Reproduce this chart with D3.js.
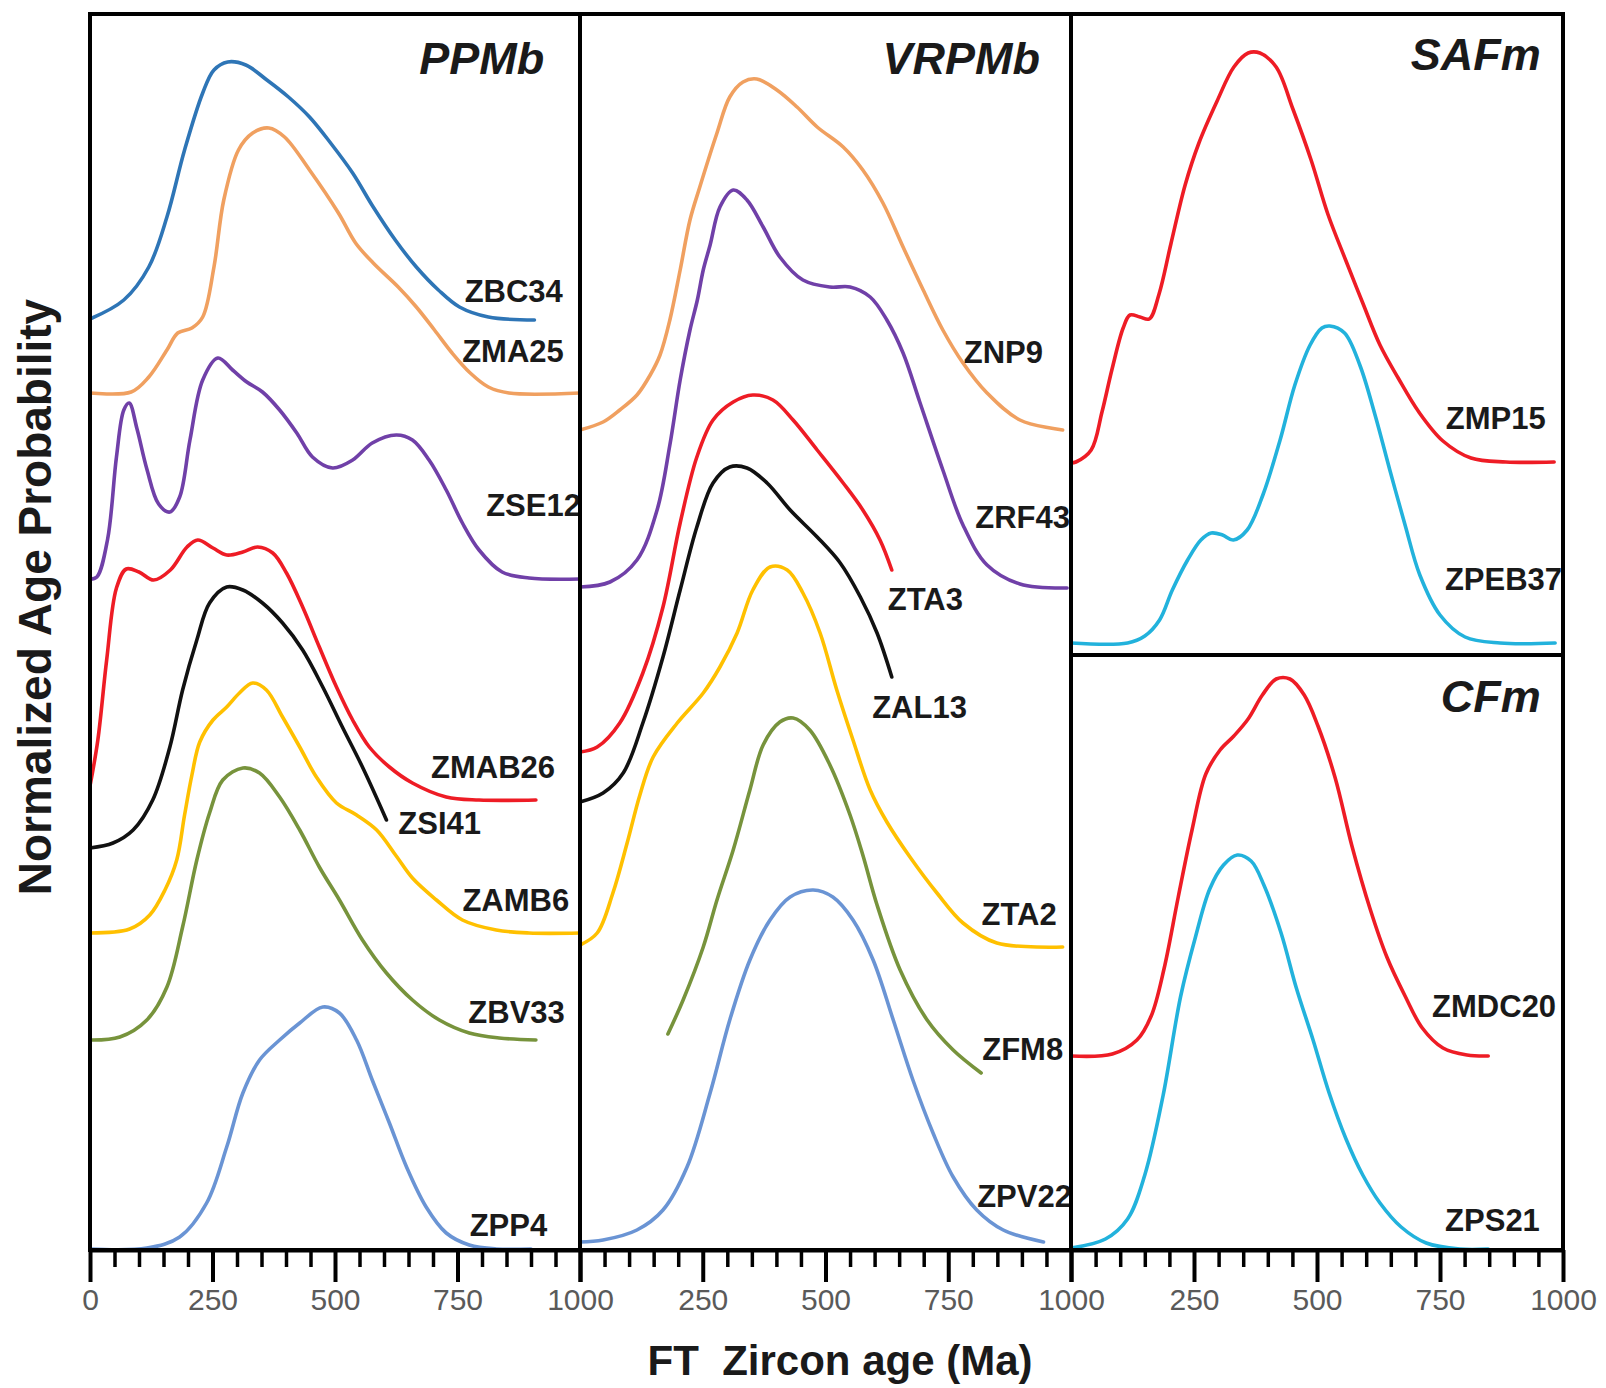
<!DOCTYPE html>
<html>
<head>
<meta charset="utf-8">
<script src="https://cdn.jsdelivr.net/npm/d3@7/dist/d3.min.js"></script>
<style>
body { margin: 0; background: #fff; }
text { font-family: "Liberation Sans", Arial, sans-serif; }
</style>
</head>
<body>
<div id="chart"></div>
<script>

// each series: [age (Ma), height above the curve's own baseline]
var ZBC34 = [[0,1],[69,20],[120,53],[157,103],[193,170],[230,227],[253,250],[281,258],[318,255],[361,240],[405,223],[448,203],[491,177],[536,147],[578,113],[623,80],[666,53],[711,30],[754,13],[813,3],[907,0]];
var ZMA25 = [[0,0],[84,1],[120,16],[157,43],[179,60],[208,65],[230,76],[253,126],[273,193],[303,243],[332,260],[365,265],[397,256],[448,223],[507,180],[542,150],[578,130],[629,106],[666,86],[703,63],[739,40],[776,20],[813,6],[855,0],[1000,0]];
var ZSE12 = [[0,0],[14,2],[36,40],[54,122],[69,169],[80,176],[96,150],[116,110],[140,75],[163,67],[183,82],[204,139],[230,199],[261,221],[291,209],[320,197],[352,187],[387,169],[422,146],[454,122],[495,111],[536,119],[576,136],[625,144],[658,139],[692,119],[727,89],[760,56],[794,29],[841,7],[896,1],[1000,0]];
var ZMAB26 = [[0,14],[16,60],[34,140],[54,212],[74,231],[100,228],[130,220],[164,230],[198,253],[220,260],[251,252],[279,245],[312,248],[342,253],[373,247],[401,227],[434,193],[468,153],[503,113],[536,80],[570,53],[611,33],[658,17],[727,3],[794,0],[910,0]];
var ZSI41 = [[0,2],[47,7],[88,20],[128,50],[163,103],[189,160],[218,210],[244,247],[279,263],[312,260],[352,247],[393,227],[434,200],[475,163],[515,123],[556,83],[605,30]];
var ZAMB6 = [[0,0],[81,4],[122,18],[153,43],[177,73],[193,118],[208,158],[224,191],[251,213],[279,226],[305,240],[332,250],[360,243],[393,216],[428,186],[462,156],[503,130],[544,118],[585,103],[625,77],[658,55],[707,33],[760,13],[829,3],[896,0],[1000,0]];
var ZBV33 = [[0,0],[61,3],[116,20],[157,53],[189,113],[218,180],[244,227],[271,260],[312,272],[346,267],[387,243],[428,210],[468,173],[509,140],[556,100],[605,67],[658,40],[713,20],[774,7],[835,2],[910,0]];
var ZPP4 = [[0,0],[116,1],[183,12],[238,46],[279,102],[312,156],[346,189],[387,209],[428,226],[475,242],[509,236],[544,209],[576,169],[611,126],[646,82],[686,42],[727,16],[774,4],[829,0],[900,0]];

var ZNP9 = [[0,0],[47,8],[81,20],[116,35],[143,55],[163,75],[183,110],[204,160],[224,210],[244,243],[279,297],[305,333],[332,348],[360,351],[401,340],[442,323],[483,303],[536,283],[576,260],[617,227],[658,183],[699,140],[739,100],[780,67],[829,37],[896,10],[983,0]];
var ZRF43 = [[0,1],[61,6],[116,28],[157,78],[183,143],[204,208],[224,258],[239,288],[251,318],[265,343],[285,381],[312,398],[340,388],[373,361],[407,331],[454,308],[509,301],[550,301],[591,291],[625,268],[658,235],[692,186],[739,118],[780,63],[829,23],[896,4],[992,0]];
var ZTA3 = [[0,1],[35,6],[81,30],[128,80],[169,146],[204,230],[238,296],[271,333],[312,351],[352,358],[393,353],[434,333],[483,303],[536,270],[576,243],[611,213],[635,183]];
var ZAL13 = [[0,1],[47,10],[88,30],[128,80],[169,146],[204,213],[238,276],[271,320],[305,336],[340,335],[381,320],[428,293],[483,266],[530,240],[571,206],[605,170],[635,126]];
var ZTA2 = [[0,2],[35,14],[67,54],[96,104],[122,152],[149,190],[198,224],[251,254],[285,280],[320,314],[352,357],[387,380],[422,377],[454,354],[489,314],[523,257],[556,207],[591,157],[625,125],[672,90],[727,54],[780,24],[849,4],[983,0]];
var ZFM8 = [[179,44],[210,78],[251,131],[279,178],[312,228],[346,288],[373,333],[407,356],[434,360],[468,348],[509,313],[550,263],[576,223],[605,173],[652,108],[707,58],[760,28],[817,5]];
var ZPV22 = [[0,1],[47,3],[116,13],[169,33],[218,76],[265,150],[305,223],[346,283],[387,323],[428,346],[475,353],[515,346],[556,323],[597,283],[638,223],[678,163],[719,110],[760,66],[808,33],[862,13],[944,1]];

var ZMP15 = [[0,0],[10,1],[41,13],[63,51],[83,93],[106,135],[120,148],[140,146],[159,144],[179,169],[203,219],[232,278],[260,320],[297,362],[331,396],[360,410],[384,410],[417,396],[451,354],[488,303],[522,249],[559,202],[593,160],[628,118],[665,85],[707,51],[756,22],[813,5],[884,1],[982,1]];
var ZPEB37 = [[0,0],[115,0],[150,7],[180,23],[206,53],[237,83],[264,103],[285,110],[308,108],[330,103],[358,113],[390,148],[425,203],[455,258],[486,298],[510,315],[526,317],[556,310],[587,278],[618,228],[648,173],[679,118],[709,68],[750,28],[801,6],[872,0],[984,0]];
var ZMDC20 = [[0,0],[84,2],[134,16],[163,40],[189,87],[218,159],[246,226],[274,282],[303,306],[331,320],[360,337],[389,361],[417,377],[445,377],[474,361],[502,330],[537,278],[571,210],[608,147],[642,99],[679,60],[714,28],[756,8],[805,1],[848,0]];
var ZPS21 = [[0,1],[70,10],[115,30],[150,74],[187,153],[223,253],[253,312],[282,360],[310,384],[338,394],[366,388],[392,364],[427,316],[458,261],[492,209],[524,157],[559,110],[593,74],[628,46],[671,22],[722,6],[791,0],[848,0]];

var seriesNames = ["ZBC34","ZMA25","ZSE12","ZMAB26","ZSI41","ZAMB6","ZBV33","ZPP4",
                   "ZNP9","ZRF43","ZTA3","ZAL13","ZTA2","ZFM8","ZPV22",
                   "ZMP15","ZPEB37","ZMDC20","ZPS21"];
var seriesValues = [ZBC34,ZMA25,ZSE12,ZMAB26,ZSI41,ZAMB6,ZBV33,ZPP4,
                    ZNP9,ZRF43,ZTA3,ZAL13,ZTA2,ZFM8,ZPV22,
                    ZMP15,ZPEB37,ZMDC20,ZPS21];
// vertical offset of each curve (stacked plot)
var seriesOffset = [930,857,671,450,400,317,210,1,
                    820,662,497,447,303,172,7,
                    787,607,194,1];
var seriesColumn = [0,0,0,0,0,0,0,0, 1,1,1,1,1,1,1, 2,2,2,2];

var panelNames = ["PPMb","VRPMb","SAFm","CFm"];
var majorTicks = [0,250,500,750,1000];
var minorTicks = d3.range(50,1000,50).filter(function(v){ return v % 250 !== 0; });

// ---- layout / style ----
var colors = ["#2e75b6","#f0a060","#7040a8","#ee1c25","#111111","#ffc000","#77933c","#6a94d4",
              "#f0a060","#7040a8","#ee1c25","#111111","#ffc000","#77933c","#6a94d4",
              "#ee1c25","#22b2dc","#ee1c25","#22b2dc"];
// label anchor [age, level, anchor]
var labelPos = [[965,948,"end"],[967,888,"end"],[1002,734,"end"],[949,472,"end"],[798,416,"end"],[978,339,"end"],[969,227,"end"],[933,14,"end"],
                [943,887,"end"],[998,722,"end"],[780,640,"end"],[788,532,"end"],[971,325,"end"],[984,190,"end"],[1002,43,"end"],
                [965,821,"end"],[760,660,"start"],[986,233,"end"],[953,19,"end"]];
var panelTitlePos = [[927,1176,0],[937,1176,1],[955,1180,2],[955,538,2]];

var W = 1606, H = 1388;
var plotLeft = 90, plotTop = 14, plotBottom = 1250, plotRight = 1563;
var colEdges = [plotLeft, 580, 1071, plotRight];
var splitY = 655;

var svg = d3.select("#chart").append("svg")
    .attr("width", W)
    .attr("height", H)
    .style("background", "#fff");

var xs = [0,1,2].map(function(i) {
    return d3.scaleLinear().domain([0,1000]).range([colEdges[i], colEdges[i+1]]);
});
var y = d3.scaleLinear().domain([0, plotBottom - plotTop]).range([plotBottom, plotTop]);

// curves
seriesValues.forEach(function(vals, i) {
    var x = xs[seriesColumn[i]];
    var off = seriesOffset[i];
    var line = d3.line()
        .x(function(d) { return x(d[0]); })
        .y(function(d) { return y(off + d[1]); })
        .curve(d3.curveCatmullRom.alpha(0.5));
    svg.append("path")
        .datum(vals)
        .attr("d", line)
        .attr("fill", "none")
        .attr("stroke", colors[i])
        .attr("stroke-width", 3.6)
        .attr("stroke-linejoin", "round")
        .attr("stroke-linecap", "round");
});

// sample labels
seriesNames.forEach(function(name, i) {
    var x = xs[seriesColumn[i]];
    var p = labelPos[i];
    svg.append("text")
        .attr("x", x(p[0]))
        .attr("y", y(p[1]))
        .attr("text-anchor", p[2])
        .attr("font-size", 31)
        .attr("font-weight", "bold")
        .attr("fill", "#1a1a1a")
        .text(name);
});

// panel titles
panelNames.forEach(function(name, i) {
    var p = panelTitlePos[i];
    svg.append("text")
        .attr("x", xs[p[2]](p[0]))
        .attr("y", y(p[1]))
        .attr("text-anchor", "end")
        .attr("font-size", 45)
        .attr("font-weight", "bold")
        .attr("font-style", "italic")
        .attr("fill", "#1a1a1a")
        .text(name);
});

// frame
svg.append("rect")
    .attr("x", plotLeft).attr("y", plotTop)
    .attr("width", plotRight - plotLeft).attr("height", plotBottom - plotTop)
    .attr("fill", "none")
    .attr("stroke", "#000")
    .attr("stroke-width", 4);
[580, 1071].forEach(function(cx) {
    svg.append("line")
        .attr("x1", cx).attr("x2", cx)
        .attr("y1", plotTop).attr("y2", plotBottom)
        .attr("stroke", "#000").attr("stroke-width", 4);
});
svg.append("line")
    .attr("x1", 1071).attr("x2", plotRight)
    .attr("y1", splitY).attr("y2", splitY)
    .attr("stroke", "#000").attr("stroke-width", 4);

// axes
xs.forEach(function(x, i) {
    var minor = svg.append("g")
        .attr("transform", "translate(0," + plotBottom + ")")
        .call(d3.axisBottom(x).tickValues(minorTicks).tickSize(17).tickSizeOuter(0).tickFormat(""));
    minor.select(".domain").remove();
    minor.selectAll("line").attr("stroke", "#000").attr("stroke-width", 3.5);

    var major = svg.append("g")
        .attr("transform", "translate(0," + plotBottom + ")")
        .call(d3.axisBottom(x).tickValues(majorTicks).tickSize(32).tickSizeOuter(0).tickPadding(7)
            .tickFormat(function(d) { return (i > 0 && d === 0) ? "" : d; }));
    major.select(".domain").attr("stroke", "#000").attr("stroke-width", 4);
    major.selectAll("line").attr("stroke", "#000").attr("stroke-width", 4);
    major.selectAll("text")
        .attr("font-size", 30)
        .attr("fill", "#5a5a5a")
        .style("font-family", "'Liberation Sans', Arial, sans-serif");
});

// axis titles
svg.append("text")
    .attr("x", 840)
    .attr("y", 1375)
    .attr("text-anchor", "middle")
    .attr("font-size", 42)
    .attr("font-weight", "bold")
    .attr("fill", "#1a1a1a")
    .attr("xml:space", "preserve")
    .text("FT  Zircon age (Ma)");

svg.append("text")
    .attr("transform", "translate(51,597) rotate(-90)")
    .attr("text-anchor", "middle")
    .attr("font-size", 46)
    .attr("font-weight", "bold")
    .attr("fill", "#1a1a1a")
    .text("Normalized Age Probability");

</script>
</body>
</html>
